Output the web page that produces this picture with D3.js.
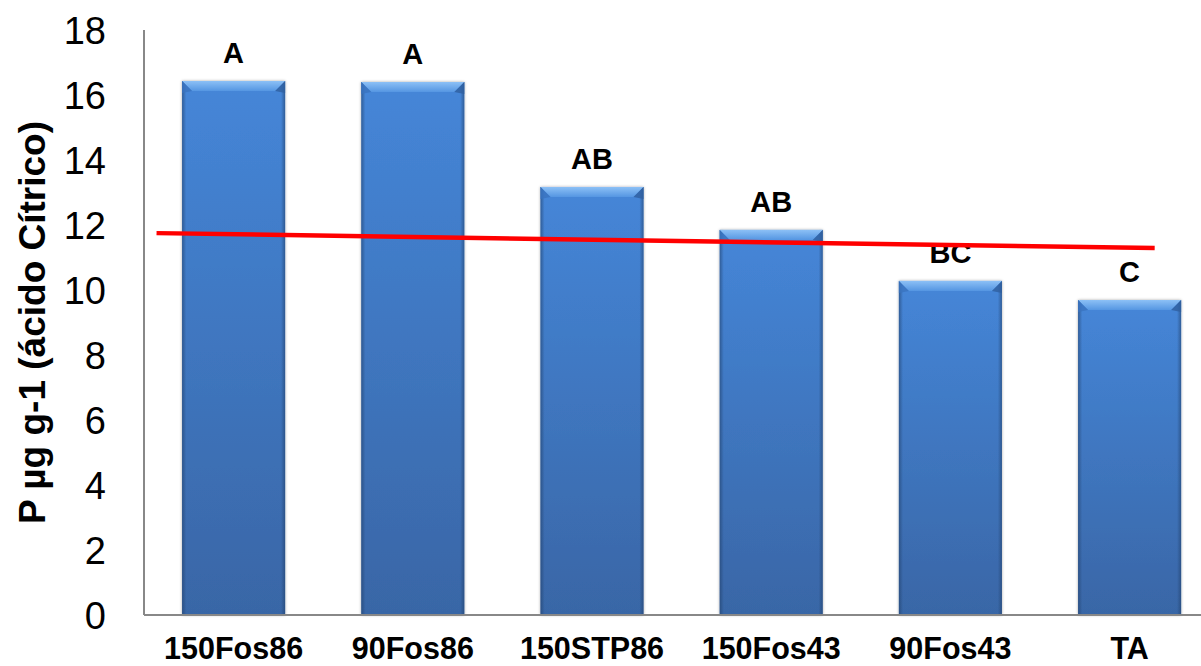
<!DOCTYPE html>
<html>
<head>
<meta charset="utf-8">
<script src="https://cdn.jsdelivr.net/npm/d3@7"></script>
<style>
  html, body { margin: 0; padding: 0; background: #fff; }
  svg { display: block; font-family: "Liberation Sans", Arial, sans-serif; }
</style>
</head>
<body>
<svg id="chart" width="1201" height="666"></svg>
<script>
// Treatments and mean P extracted with citric acid
const categories = ["150Fos86", "90Fos86", "150STP86", "150Fos43", "90Fos43", "TA"];
const values = [16.43, 16.40, 13.17, 11.85, 10.28, 9.69];
const letters = ["A", "A", "AB", "AB", "BC", "C"];
const yTicks = [0, 2, 4, 6, 8, 10, 12, 14, 16, 18];
// Reference line: position along the category axis (in bands) and value
const refLineX = [0.07, 5.64];
const refLineY = [11.75, 11.29];

const svg = d3.select("#chart");
const plotLeft = 144, plotTop = 30, plotBottom = 615;
const step = 179.2;

const x = d3.scaleBand()
  .domain(categories)
  .range([plotLeft, plotLeft + step * categories.length])
  .paddingInner(0.425)
  .paddingOuter(0.2125);

const y = d3.scaleLinear().domain([0, 18]).range([plotBottom, plotTop]);

// continuous scale over the category axis for the reference line
const xc = d3.scaleLinear().domain([0, categories.length]).range([plotLeft, plotLeft + step * categories.length]);

const defs = svg.append("defs");
const grad = defs.append("linearGradient").attr("id", "barFill").attr("x1", 0).attr("y1", 0).attr("x2", 0).attr("y2", 1);
grad.append("stop").attr("offset", "0%").attr("stop-color", "#4586d8");
grad.append("stop").attr("offset", "100%").attr("stop-color", "#3966a6");

const side = defs.append("linearGradient").attr("id", "sideShade").attr("x1", 0).attr("y1", 0).attr("x2", 1).attr("y2", 0);
side.append("stop").attr("offset", "0%").attr("stop-color", "#1f3d66").attr("stop-opacity", 0.55);
side.append("stop").attr("offset", "4%").attr("stop-color", "#1f3d66").attr("stop-opacity", 0);
side.append("stop").attr("offset", "96%").attr("stop-color", "#1f3d66").attr("stop-opacity", 0);
side.append("stop").attr("offset", "100%").attr("stop-color", "#1f3d66").attr("stop-opacity", 0.55);

const topBevel = defs.append("linearGradient").attr("id", "topBevel").attr("x1", 0).attr("y1", 0).attr("x2", 0).attr("y2", 1);
topBevel.append("stop").attr("offset", "0%").attr("stop-color", "#8cc0f6");
topBevel.append("stop").attr("offset", "100%").attr("stop-color", "#5596e2");

const shadow = defs.append("filter").attr("id", "barShadow").attr("x", "-10%").attr("y", "-5%").attr("width", "120%").attr("height", "110%");
shadow.append("feGaussianBlur").attr("in", "SourceAlpha").attr("stdDeviation", 1.6).attr("result", "b");
shadow.append("feOffset").attr("in", "b").attr("dx", 0).attr("dy", 0).attr("result", "o");
shadow.append("feComponentTransfer").attr("in", "o").attr("result", "s")
  .append("feFuncA").attr("type", "linear").attr("slope", 0.35);
const merge = shadow.append("feMerge");
merge.append("feMergeNode").attr("in", "s");
merge.append("feMergeNode").attr("in", "SourceGraphic");

// Bars
const bars = svg.append("g").selectAll("g.bar").data(categories).join("g").attr("class", "bar");
bars.append("rect")
  .attr("x", d => x(d))
  .attr("y", (d, i) => y(values[i]))
  .attr("width", x.bandwidth())
  .attr("height", (d, i) => y(0) - y(values[i]))
  .attr("fill", "url(#barFill)")
  .attr("filter", "url(#barShadow)");
bars.append("rect")
  .attr("x", d => x(d))
  .attr("y", (d, i) => y(values[i]))
  .attr("width", x.bandwidth())
  .attr("height", (d, i) => y(0) - y(values[i]))
  .attr("fill", "url(#sideShade)");
// bevelled top edge
const bev = 10;
bars.append("polygon")
  .attr("points", (d, i) => {
    const x0 = x(d), x1 = x(d) + x.bandwidth(), yt = y(values[i]);
    return [[x0, yt], [x1, yt], [x1 - bev, yt + bev], [x0 + bev, yt + bev]].map(p => p.join(",")).join(" ");
  })
  .attr("fill", "url(#topBevel)");
bars.append("polygon")
  .attr("points", (d, i) => {
    const x0 = x(d), yt = y(values[i]);
    return [[x0, yt], [x0 + bev, yt + bev], [x0, yt + bev + 2]].map(p => p.join(",")).join(" ");
  })
  .attr("fill", "#3a73bf").attr("opacity", 0.8);
bars.append("polygon")
  .attr("points", (d, i) => {
    const x1 = x(d) + x.bandwidth(), yt = y(values[i]);
    return [[x1, yt], [x1 - bev, yt + bev], [x1, yt + bev + 2]].map(p => p.join(",")).join(" ");
  })
  .attr("fill", "#2f5f9f").attr("opacity", 0.8);

// Significance letters
svg.append("g").selectAll("text").data(categories).join("text")
  .attr("x", d => x(d) + x.bandwidth() / 2)
  .attr("y", (d, i) => y(values[i]) - 18)
  .attr("text-anchor", "middle")
  .attr("font-size", 29)
  .attr("font-weight", "bold")
  .attr("fill", "#000")
  .text((d, i) => letters[i]);

// Axes lines
svg.append("line").attr("x1", plotLeft).attr("x2", plotLeft).attr("y1", plotTop).attr("y2", plotBottom)
  .attr("stroke", "#888").attr("stroke-width", 2);
svg.append("line").attr("x1", plotLeft).attr("x2", 1201).attr("y1", plotBottom).attr("y2", plotBottom)
  .attr("stroke", "#888").attr("stroke-width", 2);

// Y tick labels
const yAxis = d3.axisLeft(y).tickValues(yTicks).tickSize(0).tickPadding(38);
const yg = svg.append("g").attr("transform", `translate(${plotLeft},0)`).call(yAxis);
yg.select(".domain").remove();
yg.selectAll("text")
  .attr("font-size", 38)
  .attr("font-family", "'Liberation Sans', Arial, sans-serif")
  .attr("fill", "#000")
  .attr("dy", "0.35em");

// X category labels
const xAxis = d3.axisBottom(x).tickSize(0).tickPadding(0);
const xg = svg.append("g").attr("transform", `translate(0,${plotBottom})`).call(xAxis);
xg.select(".domain").remove();
xg.selectAll("text")
  .attr("y", 44)
  .attr("dy", 0)
  .attr("font-size", 30.5)
  .attr("font-weight", "bold")
  .attr("font-family", "'Liberation Sans', Arial, sans-serif")
  .attr("fill", "#000");

// Reference line
svg.append("line")
  .attr("x1", xc(refLineX[0])).attr("y1", y(refLineY[0]))
  .attr("x2", xc(refLineX[1])).attr("y2", y(refLineY[1]))
  .attr("stroke", "#ff0000").attr("stroke-width", 4.5);

// Y axis title
svg.append("text")
  .attr("transform", `translate(45,${(plotTop + plotBottom) / 2}) rotate(-90)`)
  .attr("text-anchor", "middle")
  .attr("font-size", 37)
  .attr("font-weight", "bold")
  .attr("fill", "#000")
  .text("P µg g-1 (ácido Cítrico)");
</script>
</body>
</html>
